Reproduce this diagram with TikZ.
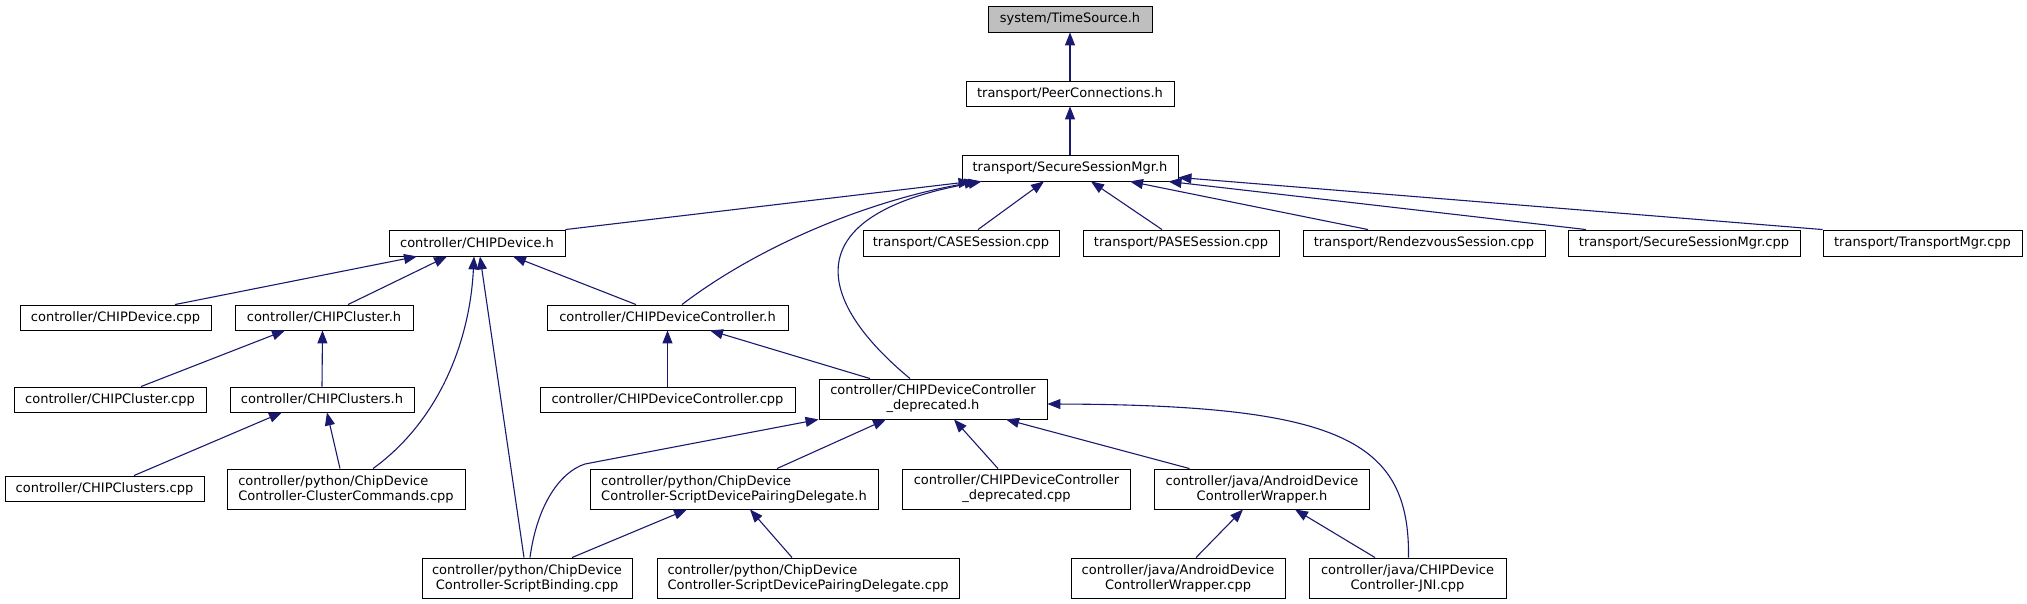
\documentclass[tikz,border=0pt]{standalone}
\usepackage{fontspec}
\setmainfont{DejaVu Sans}
\usetikzlibrary{arrows.meta,calc}
\definecolor{edgec}{RGB}{25,25,112}
\definecolor{rootfill}{RGB}{191,191,191}
\begin{document}
\begin{tikzpicture}[x=1pt,y=-1pt,
  box/.style={draw=black, line width=0.9pt, fill=white, inner sep=0pt,
    font=\fontsize{13}{15}\selectfont, align=center},
  lbox/.style={box, align=left},
  edge/.style={draw=edgec, line width=1.1pt, {Triangle[length=13pt,width=10pt]}-},
]
\useasboundingbox (0,0) rectangle (2027,604);

% row 0-2
\node[box, fill=rootfill, minimum width=164, minimum height=26] (ts) at (1070,19) {system/TimeSource.h};
\node[box, minimum width=208, minimum height=25] (pc) at (1070,93.5) {transport/PeerConnections.h};
\node[box, minimum width=216, minimum height=26] (ssmh) at (1070,168) {transport/SecureSessionMgr.h};

% row 3
\node[box, minimum width=176, minimum height=26] (devh) at (477,243) {controller/CHIPDevice.h};
\node[box, minimum width=196, minimum height=26] (case) at (961,243) {transport/CASESession.cpp};
\node[box, minimum width=196, minimum height=26] (pase) at (1181,243) {transport/PASESession.cpp};
\node[box, minimum width=242, minimum height=26] (rdv) at (1424,243) {transport/RendezvousSession.cpp};
\node[box, minimum width=232, minimum height=26] (ssmcpp) at (1684,243) {transport/SecureSessionMgr.cpp};
\node[box, minimum width=199, minimum height=26] (tmgr) at (1922.5,243) {transport/TransportMgr.cpp};

% row 4
\node[box, minimum width=191, minimum height=25] (devcpp) at (115.5,317.5) {controller/CHIPDevice.cpp};
\node[box, minimum width=178, minimum height=25] (clh) at (324,317.5) {controller/CHIPCluster.h};
\node[box, minimum width=241, minimum height=25] (dch) at (667.5,317.5) {controller/CHIPDeviceController.h};

% row 5
\node[box, minimum width=192, minimum height=25] (clcpp) at (110,399.5) {controller/CHIPCluster.cpp};
\node[box, minimum width=184, minimum height=25] (clsh) at (322,399.5) {controller/CHIPClusters.h};
\node[box, minimum width=255, minimum height=25] (dccpp) at (667.5,399.5) {controller/CHIPDeviceController.cpp};
\node[box, minimum width=228, minimum height=40] (deph) at (933,399) {controller/CHIPDeviceController\\\_deprecated.h};

% row 6
\node[box, minimum width=199, minimum height=25] (clscpp) at (104.5,488.5) {controller/CHIPClusters.cpp};
\node[lbox, minimum width=238, minimum height=40] (cccpp) at (346,489) {controller/python/ChipDevice\\Controller-ClusterCommands.cpp};
\node[lbox, minimum width=288, minimum height=40] (sdpdh) at (734,489) {controller/python/ChipDevice\\Controller-ScriptDevicePairingDelegate.h};
\node[box, minimum width=228, minimum height=40] (depcpp) at (1016.5,489) {controller/CHIPDeviceController\\\_deprecated.cpp};
\node[box, minimum width=215, minimum height=40] (awh) at (1262,489) {controller/java/AndroidDevice\\ControllerWrapper.h};

% row 7
\node[box, minimum width=210, minimum height=40] (sbcpp) at (527,578) {controller/python/ChipDevice\\Controller-ScriptBinding.cpp};
\node[lbox, minimum width=302, minimum height=40] (sdpdcpp) at (808,578) {controller/python/ChipDevice\\Controller-ScriptDevicePairingDelegate.cpp};
\node[box, minimum width=214, minimum height=40] (awcpp) at (1178,578) {controller/java/AndroidDevice\\ControllerWrapper.cpp};
\node[box, minimum width=197, minimum height=40] (jni) at (1407.5,578) {controller/java/CHIPDevice\\Controller-JNI.cpp};

% edges to TimeSource / PeerConnections
\draw[edge] (ts.south) -- (pc.north);
\draw[edge] (pc.south) -- (ssmh.north);

% edges to SecureSessionMgr.h
\draw[edge] ($(ssmh.south west)+(10,0)$) -- (devh.north east);
\draw[edge] ($(ssmh.south west)+(16,0)$) .. controls (870,200) and (760,245) .. ($(dch.north)+(14.5,0)$);
\draw[edge] ($(ssmh.south west)+(20,0)$) .. controls (795,215) and (815,300) .. ($(deph.north)+(-23,0)$);
\draw[edge] ($(ssmh.south)+(-26,0)$) -- ($(case.north)+(17,0)$);
\draw[edge] ($(ssmh.south)+(21,0)$) -- ($(pase.north)+(-19,0)$);
\draw[edge] ($(ssmh.south)+(60,0)$) -- ($(rdv.north)+(-56,0)$);
\draw[edge] ($(ssmh.south east)+(-10,0)$) -- ($(ssmcpp.north)+(-98,0)$);
\draw[edge] ($(ssmh.south east)+(0,-4)$) -- (tmgr.north west);

% edges to CHIPDevice.h
\draw[edge] ($(devh.south)+(-60,0)$) -- ($(devcpp.north)+(59.5,0)$);
\draw[edge] ($(devh.south)+(-30,0)$) -- ($(clh.north)+(24,0)$);
\draw[edge] ($(devh.south)+(-3,0)$) .. controls (470,340) and (440,420) .. ($(cccpp.north)+(27,0)$);
\draw[edge] ($(devh.south)+(3,0)$) -- ($(sbcpp.north)+(-3,0)$);
\draw[edge] ($(devh.south)+(36,0)$) -- ($(dch.north)+(-31.5,0)$);

% edges to CHIPCluster.h / CHIPClusters.h
\draw[edge] ($(clh.south)+(-39,0)$) -- ($(clcpp.north)+(31,0)$);
\draw[edge] ($(clh.south)+(-1.5,0)$) -- (clsh.north);
\draw[edge] ($(clsh.south)+(-40,0)$) -- ($(clscpp.north)+(29.5,0)$);
\draw[edge] ($(clsh.south)+(5,0)$) -- ($(cccpp.north)+(-6,0)$);

% edges to CHIPDeviceController.h
\draw[edge] (dch.south) -- (dccpp.north);
\draw[edge] ($(dch.south)+(42.5,0)$) -- ($(deph.north)+(-63,0)$);

% edges to _deprecated.h
\draw[edge] (deph.south west) -- (585,464) .. controls (560,472) and (537,505) .. ($(sbcpp.north)+(3,0)$);
\draw[edge] ($(deph.south)+(-47,0)$) -- ($(sdpdh.north)+(43,0)$);
\draw[edge] ($(deph.south)+(21,0)$) -- ($(depcpp.north)+(-18.5,0)$);
\draw[edge] ($(deph.south)+(73,0)$) -- ($(awh.north)+(-72.5,0)$);
\draw[edge] ($(deph.east)+(0,5)$) .. controls (1340,405) and (1410,440) .. ($(jni.north)+(1,0)$);

% edges to ScriptDevicePairingDelegate.h
\draw[edge] ($(sdpdh.south)+(-47,0)$) -- ($(sbcpp.north)+(45,0)$);
\draw[edge] ($(sdpdh.south)+(16,0)$) -- ($(sdpdcpp.north)+(-16,0)$);

% edges to AndroidDeviceControllerWrapper.h
\draw[edge] ($(awh.south)+(-19,0)$) -- ($(awcpp.north)+(18,0)$);
\draw[edge] ($(awh.south)+(33,0)$) -- ($(jni.north)+(-32.5,0)$);
\end{tikzpicture}
\end{document}
